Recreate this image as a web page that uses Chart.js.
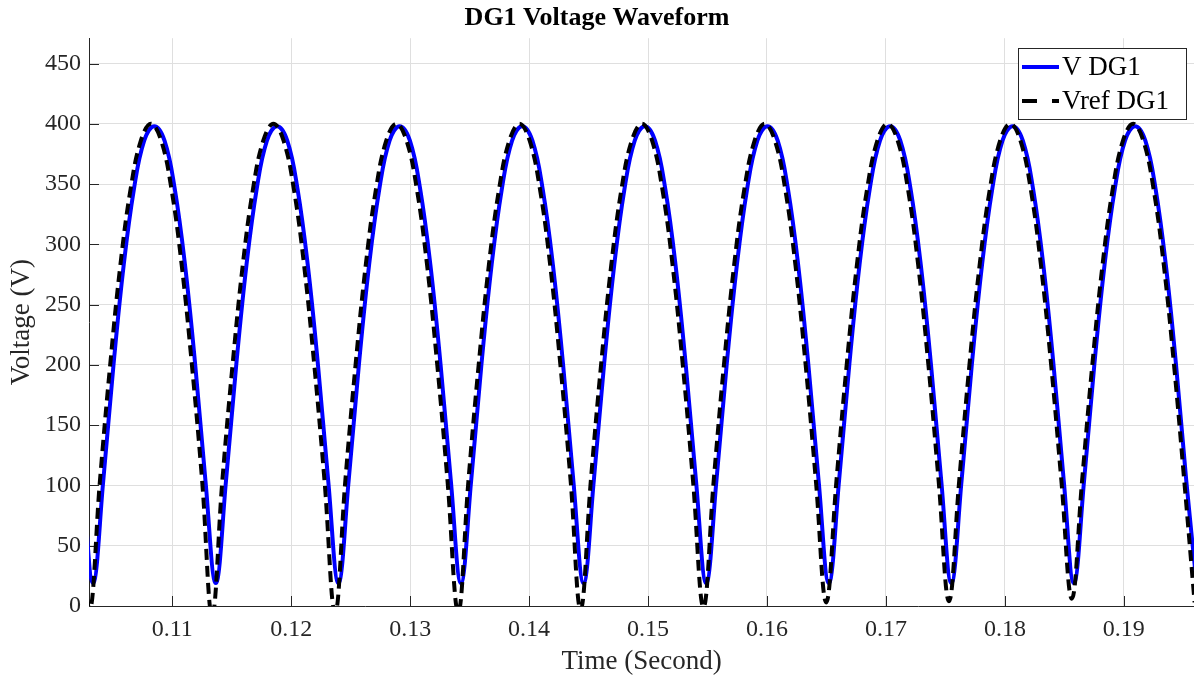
<!DOCTYPE html>
<html>
<head>
<meta charset="utf-8">
<script src="https://cdn.jsdelivr.net/npm/chart.js@4.4.1/dist/chart.umd.min.js"></script>
<style>
  html, body { margin: 0; padding: 0; background: #ffffff; }
  #wrap { width: 1194px; height: 680px; position: relative; }
</style>
</head>
<body>
<div id="wrap"><canvas id="c"></canvas></div>
<script>
// ---- Data ----
const blueTime = [
  0.10248,
  0.10334, 0.10420, 0.10506, 0.10592, 0.10678, 0.10764, 0.10849, 0.10935, 0.11021, 0.11107, 0.11193, 0.11279,
  0.11366, 0.11452, 0.11538, 0.11624, 0.11710, 0.11796, 0.11881, 0.11967, 0.12053, 0.12139, 0.12225, 0.12311,
  0.12397, 0.12483, 0.12569, 0.12655, 0.12741, 0.12827, 0.12912, 0.12998, 0.13084, 0.13170, 0.13256, 0.13342,
  0.13427, 0.13513, 0.13599, 0.13685, 0.13771, 0.13857, 0.13942, 0.14028, 0.14114, 0.14200, 0.14286, 0.14372,
  0.14458, 0.14544, 0.14630, 0.14716, 0.14802, 0.14888, 0.14973, 0.15059, 0.15145, 0.15231, 0.15317, 0.15403,
  0.15489, 0.15575, 0.15661, 0.15747, 0.15833, 0.15919, 0.16004, 0.16090, 0.16176, 0.16262, 0.16348, 0.16434,
  0.16520, 0.16606, 0.16692, 0.16778, 0.16864, 0.16950, 0.17035, 0.17121, 0.17207, 0.17293, 0.17379, 0.17465,
  0.17550, 0.17636, 0.17722, 0.17808, 0.17894, 0.17980, 0.18065, 0.18151, 0.18237, 0.18323, 0.18409, 0.18495,
  0.18580, 0.18666, 0.18752, 0.18838, 0.18924, 0.19010, 0.19095, 0.19181, 0.19267, 0.19353, 0.19439, 0.19525,
  0.19611
];
const blueVolt = [
  104,
  19, 104, 200, 283, 346, 386, 398, 386, 346, 283, 200, 104,
  19, 104, 200, 283, 346, 386, 398, 386, 346, 283, 200, 104,
  19, 104, 200, 283, 346, 386, 398, 386, 346, 283, 200, 104,
  19, 104, 200, 283, 346, 386, 398, 386, 346, 283, 200, 104,
  19, 104, 200, 283, 346, 386, 398, 386, 346, 283, 200, 104,
  19, 104, 200, 283, 346, 386, 398, 386, 346, 283, 200, 104,
  19, 104, 200, 283, 346, 386, 398, 386, 346, 283, 200, 104,
  19, 104, 200, 283, 346, 386, 398, 386, 346, 283, 200, 104,
  19, 104, 200, 283, 346, 386, 398, 386, 346, 283, 200, 104,
  19
];
const refTime = [
  0.10220,
  0.10306, 0.10392, 0.10478, 0.10564, 0.10650, 0.10736, 0.10821, 0.10907, 0.10993, 0.11079, 0.11165, 0.11251,
  0.11335, 0.11421, 0.11507, 0.11593, 0.11679, 0.11765, 0.11850, 0.11936, 0.12022, 0.12108, 0.12194, 0.12280,
  0.12369, 0.12455, 0.12541, 0.12627, 0.12713, 0.12799, 0.12884, 0.12970, 0.13056, 0.13142, 0.13228, 0.13314,
  0.13404, 0.13490, 0.13576, 0.13662, 0.13748, 0.13834, 0.13919, 0.14005, 0.14091, 0.14177, 0.14263, 0.14349,
  0.14433, 0.14519, 0.14605, 0.14691, 0.14777, 0.14863, 0.14948, 0.15034, 0.15120, 0.15206, 0.15292, 0.15378,
  0.15466, 0.15552, 0.15638, 0.15724, 0.15810, 0.15896, 0.15981, 0.16067, 0.16153, 0.16239, 0.16325, 0.16411,
  0.16498, 0.16584, 0.16670, 0.16756, 0.16842, 0.16928, 0.17013, 0.17099, 0.17185, 0.17271, 0.17357, 0.17443,
  0.17530, 0.17616, 0.17702, 0.17788, 0.17874, 0.17960, 0.18045, 0.18131, 0.18217, 0.18303, 0.18389, 0.18475,
  0.18563, 0.18649, 0.18735, 0.18821, 0.18907, 0.18993, 0.19078, 0.19164, 0.19250, 0.19336, 0.19422, 0.19508,
  0.19595
];
const refVolt = [
  104,
  -3, 104, 200, 283, 346, 386, 400, 386, 346, 283, 200, 104,
  -8, 104, 200, 283, 346, 386, 400, 386, 346, 283, 200, 104,
  -6, 104, 200, 283, 346, 386, 400, 386, 346, 283, 200, 104,
  -5, 104, 200, 283, 346, 386, 400, 386, 346, 283, 200, 104,
  -3, 104, 200, 283, 346, 386, 400, 386, 346, 283, 200, 104,
  -1, 104, 200, 283, 346, 386, 400, 386, 346, 283, 200, 104,
  3, 104, 200, 283, 346, 386, 400, 386, 346, 283, 200, 104,
  4, 104, 200, 283, 346, 386, 400, 386, 346, 283, 200, 104,
  6, 104, 200, 283, 346, 386, 400, 386, 346, 283, 200, 104,
  3
];
const seriesNames = ['V DG1', 'Vref DG1'];
const xTickValues = [0.11, 0.12, 0.13, 0.14, 0.15, 0.16, 0.17, 0.18, 0.19];
const xTickLabels = ['0.11', '0.12', '0.13', '0.14', '0.15', '0.16', '0.17', '0.18', '0.19'];
const yTickValues = [0, 50, 100, 150, 200, 250, 300, 350, 400, 450];
const yTickLabels = ['0', '50', '100', '150', '200', '250', '300', '350', '400', '450'];

// ---- Styles ----
const SERIF = "'Liberation Serif', 'Times New Roman', serif";
const AXIS_COLOR = '#262626';
const GRID_COLOR = '#dfdfdf';
const BLUE = '#0000ff';

const toPoints = (xs, ys) => xs.map((x, i) => ({ x: x, y: ys[i] }));

// inward tick marks (MATLAB style)
const inwardTicks = {
  id: 'inwardTicks',
  beforeDatasetsDraw(chart) {
    const { ctx, chartArea, scales } = chart;
    ctx.save();
    ctx.strokeStyle = AXIS_COLOR;
    ctx.lineWidth = 1;
    ctx.beginPath();
    scales.x.ticks.forEach(t => {
      const px = Math.round(scales.x.getPixelForValue(t.value)) + 0.5;
      ctx.moveTo(px, chartArea.bottom);
      ctx.lineTo(px, chartArea.bottom - 10);
    });
    scales.y.ticks.forEach(t => {
      const py = Math.round(scales.y.getPixelForValue(t.value)) + 0.5;
      ctx.moveTo(chartArea.left, py);
      ctx.lineTo(chartArea.left + 10, py);
    });
    ctx.stroke();
    ctx.restore();
  }
};

// boxed legend in the upper right of the plot
const boxLegend = {
  id: 'boxLegend',
  afterDraw(chart) {
    const { ctx } = chart;
    const ds = chart.data.datasets;
    const bx = 1018.5, by = 48.5, bw = 168, bh = 71;
    ctx.save();
    ctx.fillStyle = '#ffffff';
    ctx.fillRect(bx, by, bw, bh);
    ctx.strokeStyle = AXIS_COLOR;
    ctx.lineWidth = 1;
    ctx.strokeRect(bx, by, bw, bh);
    const rows = [67, 101];
    ds.forEach((d, i) => {
      const y = rows[i];
      ctx.beginPath();
      ctx.strokeStyle = d.borderColor;
      ctx.lineWidth = d.borderWidth;
      ctx.setLineDash(i === 1 ? [15, 15] : []);
      ctx.moveTo(1022, y);
      ctx.lineTo(1059, y);
      ctx.stroke();
      ctx.setLineDash([]);
      ctx.fillStyle = '#000000';
      ctx.font = '27px ' + SERIF;
      ctx.textBaseline = 'middle';
      ctx.textAlign = 'left';
      ctx.fillText(d.label, 1062, y + 1);
    });
    ctx.restore();
  }
};

new Chart(document.getElementById('c'), {
  type: 'line',
  data: {
    datasets: [
      {
        label: seriesNames[0],
        data: toPoints(blueTime, blueVolt),
        borderColor: BLUE,
        borderWidth: 4,
        pointRadius: 0,
        tension: 0.4,
        fill: false,
        order: 1,
        clip: 0
      },
      {
        label: seriesNames[1],
        data: toPoints(refTime, refVolt),
        borderColor: '#000000',
        borderWidth: 4,
        borderDash: [11, 6],
        pointRadius: 0,
        tension: 0.4,
        fill: false,
        order: 0,
        clip: 0
      }
    ]
  },
  options: {
    responsive: true,
    maintainAspectRatio: false,
    animation: false,
    devicePixelRatio: 1,
    layout: { padding: 0 },
    plugins: {
      legend: { display: false },
      tooltip: { enabled: false },
      title: {
        display: true,
        text: 'DG1 Voltage Waveform',
        color: '#000000',
        font: { family: SERIF, size: 26, weight: 'bold' },
        padding: { top: 3, bottom: 4 }
      }
    },
    scales: {
      x: {
        type: 'linear',
        min: 0.103,
        max: 0.1959,
        afterBuildTicks: s => { s.ticks = xTickValues.map(v => ({ value: v })); },
        afterFit: s => { s.height = 74; },
        ticks: {
          callback: (v, i) => xTickLabels[i],
          color: AXIS_COLOR,
          font: { family: SERIF, size: 24 },
          padding: 9,
          maxRotation: 0,
          autoSkip: false
        },
        grid: { color: GRID_COLOR, drawTicks: false, lineWidth: 1 },
        border: { display: true, color: AXIS_COLOR, width: 1 },
        title: {
          display: true,
          text: 'Time (Second)',
          color: AXIS_COLOR,
          font: { family: SERIF, size: 27 },
          padding: { top: 0, bottom: 2 }
        }
      },
      y: {
        type: 'linear',
        min: 0,
        max: 471,
        afterBuildTicks: s => { s.ticks = yTickValues.map(v => ({ value: v })); },
        afterFit: s => { s.width = 89; },
        ticks: {
          callback: (v, i) => yTickLabels[i],
          color: AXIS_COLOR,
          font: { family: SERIF, size: 24 },
          padding: 8,
          autoSkip: false
        },
        grid: { color: GRID_COLOR, drawTicks: false, lineWidth: 1 },
        border: { display: true, color: AXIS_COLOR, width: 1 },
        title: {
          display: true,
          text: 'Voltage (V)',
          color: AXIS_COLOR,
          font: { family: SERIF, size: 27 },
          padding: { top: 6, bottom: 0 }
        }
      }
    }
  },
  plugins: [inwardTicks, boxLegend]
});
</script>
</body>
</html>
